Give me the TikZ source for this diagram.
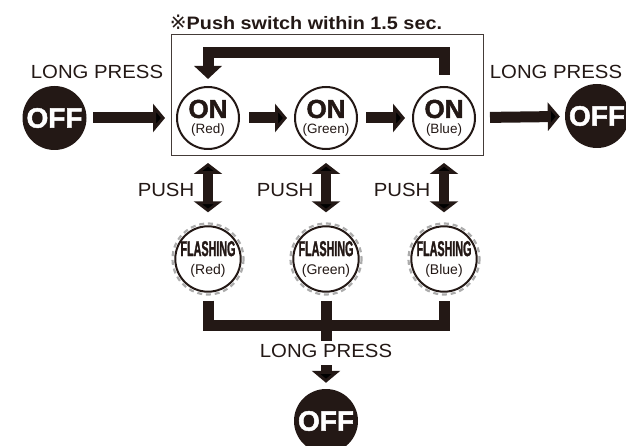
\documentclass[tikz,border=0pt]{standalone}
\usepackage{fontspec}
\setmainfont{Liberation Sans}
\newfontfamily\blackfont[FakeBold=1.8]{Liberation Sans Bold}
\newfontfamily\narrowfont[FakeStretch=0.5,FakeBold=1.2]{Liberation Sans Bold}
\newfontfamily\widefont[FakeStretch=1.07]{Liberation Sans}
\newfontfamily\titlefont[FakeStretch=1.1]{Liberation Sans Bold}
\newfontfamily\markfont{DejaVu Sans}
\usetikzlibrary{arrows.meta}
\definecolor{ink}{HTML}{231815}

\begin{document}
\begin{tikzpicture}[x=1pt, y=-1pt,
  offnode/.style={circle, fill=ink, text=white, minimum size=64pt, inner sep=0pt, font=\blackfont\fontsize{28}{28}\selectfont},
  onnode/.style={circle, draw=ink, line width=2pt, fill=white, minimum size=62pt, inner sep=0pt, align=center, text=ink, font=\fontsize{13.5}{15.5}\selectfont},
  flashnode/.style={onnode, font=\fontsize{14}{18}\selectfont},
  ring/.style={draw=gray!65, line width=2.2pt, dash pattern=on 5pt off 3.8pt},
  caption/.style={font=\widefont\fontsize{19}{19}\selectfont, text=ink},
  bigarrow/.style={draw=ink, line width=11pt, -{Triangle[width=28pt, length=12pt]}},
  pusharrow/.style={draw=ink, line width=10pt, {Triangle[width=28pt, length=11pt]}-{Triangle[width=28pt, length=11pt]}},
  bar/.style={draw=ink, line width=11pt, line join=miter}]
\clip (0,0) rectangle (626,446);

\node[font=\titlefont\fontsize{18}{18}\selectfont, text=ink] (note) at (306,22) {{\markfont\fontsize{20}{18}\selectfont ※}Push switch within 1.5 sec.};
\draw[draw=ink!85, line width=1pt] (171,35) rectangle (483,156);

\node[offnode] (offl) at (54.5,118) {OFF};
\node[offnode] (offr) at (597,116) {OFF};
\node[offnode] (offb) at (326,421) {OFF};

\node[onnode] (onr) at (208,118) {{\blackfont\fontsize{26}{15.5}\selectfont ON}\\(Red)};
\node[onnode] (ong) at (326,118) {{\blackfont\fontsize{26}{15.5}\selectfont ON}\\(Green)};
\node[onnode] (onb) at (444,118) {{\blackfont\fontsize{26}{15.5}\selectfont ON}\\(Blue)};

\node[flashnode] (flr) at (208,259) {{\narrowfont\fontsize{21.5}{18}\selectfont FLASHING}\\(Red)};
\node[flashnode] (flg) at (326,259) {{\narrowfont\fontsize{21.5}{18}\selectfont FLASHING}\\(Green)};
\node[flashnode] (flb) at (444,259) {{\narrowfont\fontsize{21.5}{18}\selectfont FLASHING}\\(Blue)};
\draw[ring] (flr) circle[radius=35.5];
\draw[ring] (flg) circle[radius=35.5];
\draw[ring] (flb) circle[radius=35.5];

\node[caption] (lpl) at (97,72) {LONG PRESS};
\node[caption] (lpr) at (556,72) {LONG PRESS};
\node[caption] (lpb) at (326,351) {LONG PRESS};
\node[caption] (pushr) at (166,190) {PUSH};
\node[caption] (pushg) at (285,190) {PUSH};
\node[caption] (pushb) at (402,190) {PUSH};

\coordinate (looptop) at (326,52.5);
\coordinate (join) at (326,325.5);
\coordinate (stem) at (326,341);

\draw[bigarrow] (offl) edge[shorten <=6.5pt, shorten >=11pt] (onr);
\draw[bigarrow] (onr) edge[shorten <=9pt, shorten >=7pt] (ong);
\draw[bigarrow] (ong) edge[shorten <=8pt, shorten >=7pt] (onb);
\draw[bigarrow] (onb) edge[shorten <=14pt, shorten >=5pt] (offr);
\draw[bar, -{Triangle[width=27pt, length=13pt]}] ([yshift=11pt]onb.north) |- (looptop) -| ([yshift=7pt]onr.north);

\draw[pusharrow] (onr) edge[shorten <=13pt, shorten >=13pt] (flr);
\draw[pusharrow] (ong) edge[shorten <=13pt, shorten >=13pt] (flg);
\draw[pusharrow] (onb) edge[shorten <=13pt, shorten >=13pt] (flb);

\draw[bar] ([yshift=-8pt]flr.south) |- (join) -| ([yshift=-8pt]flb.south);
\draw[bar] ([yshift=-8pt]flg.south) -- (stem);
\draw[bigarrow] (lpb) edge[shorten <=4pt, shorten >=6pt] (offb);

\end{tikzpicture}
\end{document}
